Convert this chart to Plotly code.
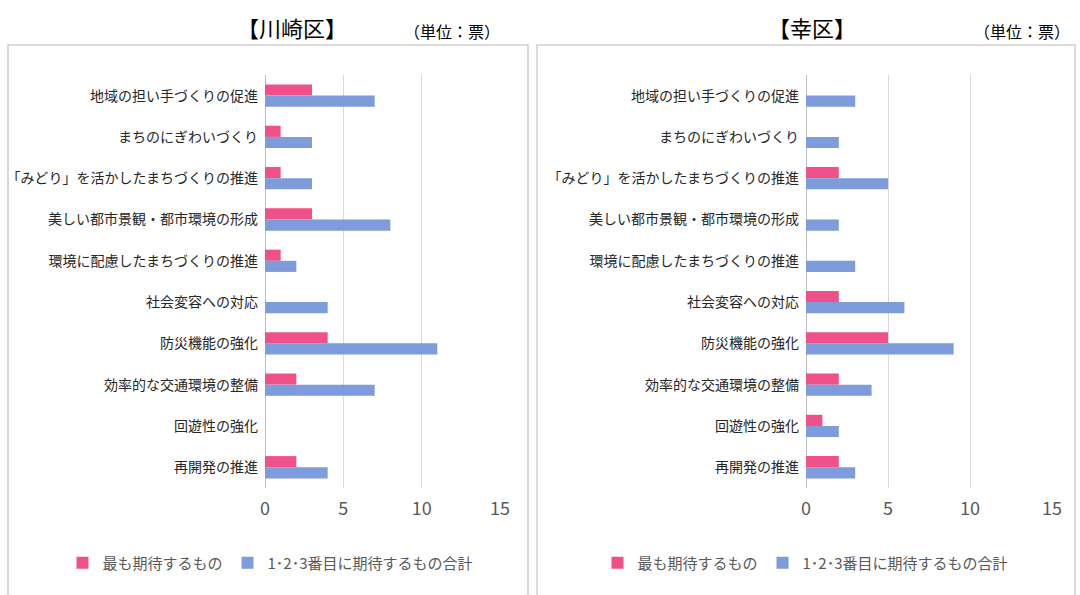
import plotly.graph_objects as go

categories = [
    "地域の担い手づくりの促進",
    "まちのにぎわいづくり",
    "「みどり」を活かしたまちづくりの推進",
    "美しい都市景観・都市環境の形成",
    "環境に配慮したまちづくりの推進",
    "社会変容への対応",
    "防災機能の強化",
    "効率的な交通環境の整備",
    "回遊性の強化",
    "再開発の推進",
]
series_names = ["最も期待するもの", "1･2･3番目に期待するもの合計"]
kawasaki_first = [3, 1, 1, 3, 1, 0, 4, 2, 0, 2]
kawasaki_total = [7, 3, 3, 8, 2, 4, 11, 7, 0, 4]
saiwai_first = [0, 0, 2, 0, 0, 2, 5, 2, 1, 2]
saiwai_total = [3, 2, 5, 2, 3, 6, 9, 4, 2, 3]
x_ticks = [0, 5, 10, 15]
titles = ["【川崎区】", "【幸区】"]
unit_label = "（単位：票）"

PINK = "#F0508A"
BLUE = "#7E9BDB"
FONT = "Noto Sans CJK JP"
W, H = 1080, 595

fig = go.Figure()
panels = [
    ("x", "y", "legend", kawasaki_first, kawasaki_total),
    ("x2", "y2", "legend2", saiwai_first, saiwai_total),
]
for xa, ya, lg, first, total in panels:
    fig.add_trace(go.Bar(y=categories, x=first, orientation="h", name=series_names[0],
                         marker=dict(color=PINK, line=dict(width=0)), xaxis=xa, yaxis=ya, legend=lg))
    fig.add_trace(go.Bar(y=categories, x=total, orientation="h", name=series_names[1],
                         marker=dict(color=BLUE, line=dict(width=0)), xaxis=xa, yaxis=ya, legend=lg))

def xaxis(domain, anchor):
    return dict(domain=domain, range=[0, 15], tickvals=x_ticks, showgrid=True, anchor=anchor,
                gridcolor="#D9D9D9", gridwidth=1, zeroline=True, zerolinecolor="#BFBFBF",
                zerolinewidth=1, showline=False, ticks="", automargin=False,
                tickfont=dict(family=FONT, size=18, color="#595959"), ticklabelstandoff=8)

def yaxis(anchor):
    return dict(domain=[0.18, 0.874], autorange="reversed", anchor=anchor, ticks="",
                showline=False, automargin=False, showgrid=False,
                tickfont=dict(family=FONT, size=14, color="#262626"),
                ticklabelstandoff=6)

fig.update_layout(
    width=W, height=H, autosize=False,
    margin=dict(l=0, r=0, t=0, b=0, autoexpand=False),
    paper_bgcolor="white", plot_bgcolor="white",
    barmode="group", bargap=0.46, bargroupgap=0,
    xaxis=xaxis([265 / W, 500 / W], "y"),
    yaxis=yaxis("x"),
    xaxis2=xaxis([806 / W, 1052 / W], "y2"),
    yaxis2=yaxis("x2"),
    legend=dict(orientation="h", x=270 / W, y=1 - 563 / H, xanchor="center", yanchor="middle",
                font=dict(family=FONT, size=15, color="#595959"), traceorder="normal",
                itemwidth=30),
    legend2=dict(orientation="h", x=805 / W, y=1 - 563 / H, xanchor="center", yanchor="middle",
                 font=dict(family=FONT, size=15, color="#595959"), traceorder="normal",
                 itemwidth=30),
)

fig.add_shape(type="rect", xref="paper", yref="paper", x0=8 / W, x1=528 / W,
              y0=-0.02, y1=1 - 45 / H, line=dict(color="#D0D0D0", width=1.5))
fig.add_shape(type="rect", xref="paper", yref="paper", x0=537 / W, x1=1075 / W,
              y0=-0.02, y1=1 - 45 / H, line=dict(color="#D0D0D0", width=1.5))

fig.add_annotation(text=titles[0], x=292 / W, y=1 - 27 / H, xref="paper", yref="paper",
                   showarrow=False, xanchor="center", yanchor="middle",
                   font=dict(family=FONT, size=22, color="black"))
fig.add_annotation(text=unit_label, x=452 / W, y=1 - 31 / H, xref="paper", yref="paper",
                   showarrow=False, xanchor="center", yanchor="middle",
                   font=dict(family=FONT, size=16, color="black"))
fig.add_annotation(text=titles[1], x=812 / W, y=1 - 27 / H, xref="paper", yref="paper",
                   showarrow=False, xanchor="center", yanchor="middle",
                   font=dict(family=FONT, size=22, color="black"))
fig.add_annotation(text=unit_label, x=1022 / W, y=1 - 31 / H, xref="paper", yref="paper",
                   showarrow=False, xanchor="center", yanchor="middle",
                   font=dict(family=FONT, size=16, color="black"))

fig.write_html("out.html", config={"displayModeBar": False},
               post_script="document.body.style.margin='0';")
